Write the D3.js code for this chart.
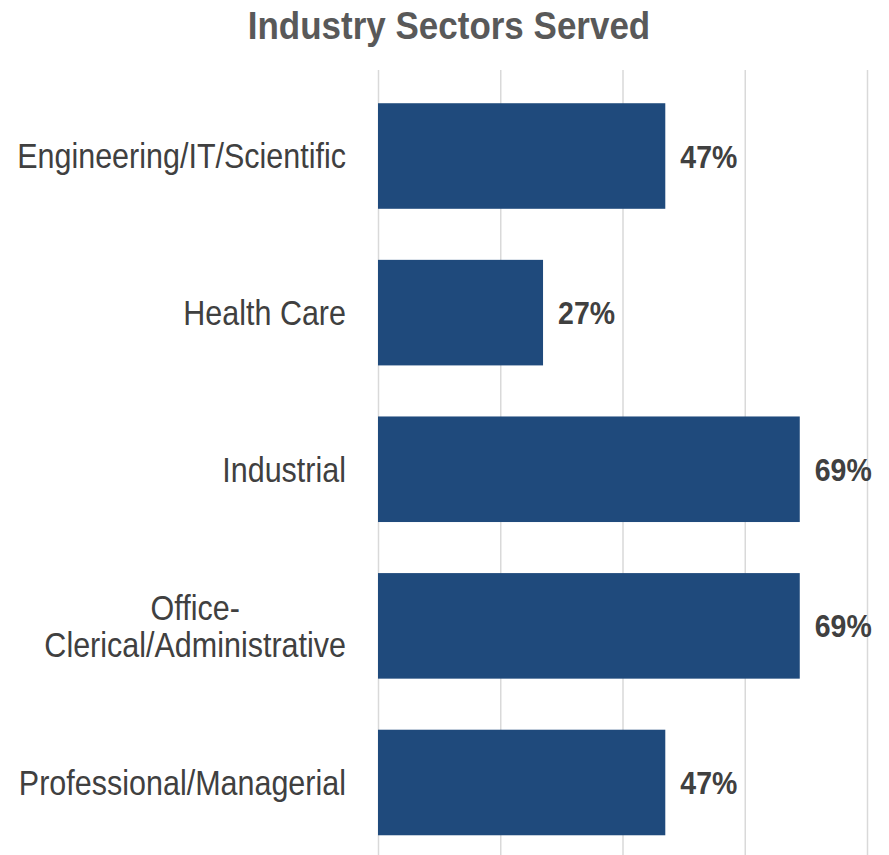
<!DOCTYPE html>
<html>
<head>
<meta charset="utf-8">
<script src="https://cdn.jsdelivr.net/npm/d3@7"></script>
<style>
  html, body { margin: 0; padding: 0; background: #ffffff; }
  svg { display: block; font-family: "Liberation Sans", Arial, sans-serif; }
</style>
</head>
<body>
<svg id="chart" width="889" height="855"></svg>
<script>
// Sector categories (each entry lists the lines of its axis label)
const categories = [
  ["Engineering/IT/Scientific"],
  ["Health Care"],
  ["Industrial"],
  ["Office-", "Clerical/Administrative"],
  ["Professional/Managerial"]
];
// Share of respondents serving each sector
const values = [0.47, 0.27, 0.69, 0.69, 0.47];
// Gridline positions along the value axis
const gridTicks = [0, 0.2, 0.4, 0.6, 0.8];

const svg = d3.select("#chart");
const W = 889, H = 855;
const textStretch = 1.12; // slightly tall lettering

const keys = categories.map(c => c.join(" "));

const x = d3.scaleLinear().domain([0, 0.8]).range([378, 867]);
const y = d3.scaleBand().domain(keys).range([77.7, 860.8])
  .paddingInner(0.326).paddingOuter(0.163);

// Title
svg.append("g")
  .attr("transform", `translate(449,39) scale(1,${textStretch})`)
  .append("text")
  .attr("text-anchor", "middle")
  .attr("font-size", 35).attr("font-weight", "bold")
  .attr("fill", "#595959")
  .text("Industry Sectors Served");

// Vertical gridlines
const grid = svg.append("g")
  .attr("transform", `translate(0,${H})`)
  .call(d3.axisTop(x).tickValues(gridTicks).tickSize(H - 70).tickFormat(""));
grid.select(".domain").remove();
grid.selectAll(".tick line").attr("stroke", "#d9d9d9").attr("stroke-width", 1.5);

// Bars
svg.append("g").selectAll("rect")
  .data(values)
  .join("rect")
  .attr("x", x(0))
  .attr("y", (d, i) => y(keys[i]))
  .attr("width", d => x(d) - x(0))
  .attr("height", y.bandwidth())
  .attr("fill", "#1f4a7c");

// Value labels
svg.append("g").selectAll("g")
  .data(values)
  .join("g")
  .attr("transform", (d, i) =>
    `translate(${x(d) + 15},${y(keys[i]) + y.bandwidth() / 2}) scale(1,${textStretch})`)
  .append("text")
  .attr("dy", "0.36em")
  .attr("font-size", 28.5).attr("font-weight", "bold")
  .attr("fill", "#404040")
  .text(d => Math.round(d * 100) + "%");

// Category labels: right-aligned block, multi-line labels centred on each other
const labelRight = 346;
const lineH = 37;
const lab = svg.append("g");
categories.forEach((lines, i) => {
  const cy = y(keys[i]) + y.bandwidth() / 2;
  const t = lab.append("g")
    .attr("transform", `translate(0,${cy}) scale(1,${textStretch})`)
    .append("text")
    .attr("font-size", 30.5)
    .attr("fill", "#404040");
  const n = lines.length;
  const spans = lines.map((ln, j) =>
    t.append("tspan")
      .attr("y", (j - (n - 1) / 2) * lineH / textStretch)
      .attr("dy", "0.36em")
      .text(ln));
  const widths = spans.map(s => s.node().getComputedTextLength());
  const maxW = Math.max(...widths);
  if (n === 1) {
    t.attr("text-anchor", "end");
    spans[0].attr("x", labelRight);
  } else {
    t.attr("text-anchor", "middle");
    spans.forEach(s => s.attr("x", labelRight - maxW / 2));
  }
});
</script>
</body>
</html>
